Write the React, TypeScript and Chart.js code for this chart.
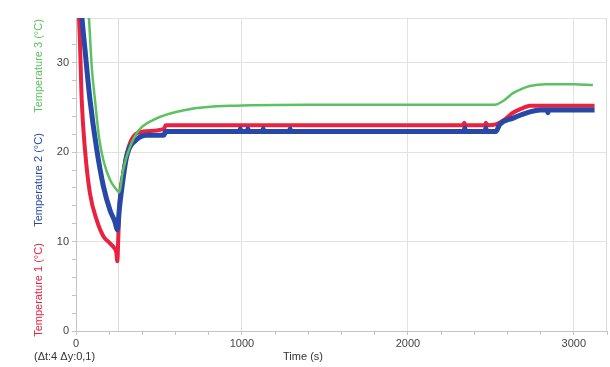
import React, { useEffect, useRef } from "react";
import { Chart, registerables } from "chart.js";
Chart.register(...registerables);

// Temperature 1 (red)
const time1 = [0, 14, 24, 34, 54, 84, 125, 165, 205, 230, 243, 249, 255, 261, 285, 325, 405, 530, 540, 1000, 2330, 2340, 2348, 2465, 2470, 2478, 2530, 2580, 2633, 2690, 2735, 2800, 3000, 3125];
const temp1 = [44, 37, 32.2, 26, 20.3, 15.4, 12.4, 10.6, 9.8, 9.3, 8.8, 7.8, 10.5, 13.9, 17.7, 21.0, 22.3, 22.6, 23.0, 23.0, 23.0, 23.3, 23.0, 23.0, 23.3, 23.0, 23.1, 23.6, 24.4, 24.9, 25.2, 25.2, 25.2, 25.2];

// Temperature 2 (blue)
const time2 = [0, 20, 36, 54, 84, 125, 165, 205, 235, 249, 262, 275, 305, 365, 425, 530, 540, 985, 990, 995, 1032, 1036, 1040, 1125, 1128, 1132, 1287, 1290, 1294, 2340, 2343, 2346, 2466, 2470, 2474, 2530, 2554, 2634, 2735, 2800, 2840, 2844, 2848, 3000, 3125];
const temp2 = [46, 39, 35, 31.5, 25.9, 20.3, 16.2, 13.5, 12.2, 11.3, 13.8, 15.8, 19.5, 21.4, 21.9, 21.9, 22.3, 22.3, 22.6, 22.3, 22.3, 22.6, 22.3, 22.3, 22.6, 22.3, 22.3, 22.6, 22.3, 22.3, 22.7, 22.3, 22.3, 22.7, 22.3, 22.3, 23.1, 23.8, 24.5, 24.7, 24.7, 24.4, 24.7, 24.7, 24.7];

// Temperature 3 (green)
const time3 = [0, 50, 78, 95, 114, 140, 165, 205, 240, 261, 280, 305, 365, 466, 667, 968, 1400, 2000, 2524, 2580, 2633, 2690, 2735, 2835, 3000, 3115];
const temp3 = [56, 41, 35, 29.5, 25.9, 21.5, 19.1, 16.9, 15.9, 15.5, 17.6, 19.5, 22.1, 23.6, 24.75, 25.2, 25.3, 25.3, 25.3, 25.8, 26.6, 27.1, 27.4, 27.6, 27.6, 27.5];

const xMin = 0, xMax = 3200, xMinorStep = 200, xMajorStep = 1000;
const yMin = 0, yMax = 35, yMinorStep = 2, yMajorStep = 10;
const cursorTime = 256;

const seriesLabels = ["Temperature 1 (°C)", "Temperature 2 (°C)", "Temperature 3 (°C)"];
const xTitle = "Time (s)";
const deltaText = "(Δt:4 Δy:0,1)";

const RED = "#e8223f";
const BLUE = "#2748a6";
const GREEN = "#5cc160";
const FONT = "'Liberation Sans', Arial, sans-serif";

const toPts = (t: number[], v: number[]) => t.map((x, i) => ({ x, y: v[i] }));

export default function App() {
  const ref = useRef<HTMLCanvasElement | null>(null);
  useEffect(() => {
    if (!ref.current) return;
    const textPlugin = {
      id: "texts",
      beforeDatasetsDraw(chart: any) {
        const { ctx, chartArea, scales } = chart;
        const px = scales.x.getPixelForValue(cursorTime);
        ctx.save();
        ctx.strokeStyle = "#dcdcdc";
        ctx.lineWidth = 1;
        ctx.beginPath();
        ctx.moveTo(Math.round(px) + 0.5, chartArea.top);
        ctx.lineTo(Math.round(px) + 0.5, chartArea.bottom);
        ctx.moveTo(chartArea.right - 0.5, chartArea.top);
        ctx.lineTo(chartArea.right - 0.5, chartArea.bottom);
        ctx.stroke();
        ctx.restore();
      },
      afterDraw(chart: any) {
        const { ctx } = chart;
        ctx.save();
        ctx.font = `11px ${FONT}`;
        ctx.fillStyle = "#333";
        ctx.textBaseline = "middle";
        ctx.textAlign = "center";
        ctx.fillText(xTitle, 303, 357);
        ctx.textAlign = "left";
        ctx.fillText(deltaText, 34, 357);
        const cols = [RED, BLUE, GREEN];
        const centers = [290, 180, 66];
        seriesLabels.forEach((s, i) => {
          ctx.save();
          ctx.translate(39, centers[i]);
          ctx.rotate(-Math.PI / 2);
          ctx.textAlign = "center";
          ctx.fillStyle = cols[i];
          ctx.fillText(s, 0, 0);
          ctx.restore();
        });
        ctx.restore();
      },
    };
    const chart = new Chart(ref.current, {
      type: "line",
      data: {
        datasets: [
          { label: seriesLabels[2], data: toPts(time3, temp3), borderColor: GREEN, borderWidth: 2.5, order: 0 },
          { label: seriesLabels[1], data: toPts(time2, temp2), borderColor: BLUE, borderWidth: 5, order: 1 },
          { label: seriesLabels[0], data: toPts(time1, temp1), borderColor: RED, borderWidth: 4, order: 2 },
        ].map((d) => ({ ...d, pointRadius: 0, cubicInterpolationMode: "monotone" as const, fill: false })),
      },
      options: {
        responsive: false,
        animation: false,
        devicePixelRatio: 1,
        layout: { padding: { top: 18, right: 3, left: 0, bottom: 0 } },
        plugins: { legend: { display: false }, tooltip: { enabled: false } },
        scales: {
          x: {
            type: "linear",
            min: xMin,
            max: xMax,
            afterFit: (s: any) => { s.height = 36; },
            ticks: {
              stepSize: xMinorStep,
              autoSkip: false,
              maxRotation: 0,
              padding: 2,
              color: "#444",
              font: { family: FONT, size: 11 },
              callback: (v: any) => (Number(v) % xMajorStep === 0 ? String(v) : ""),
            },
            grid: {
              color: (c: any) => (c.tick && c.tick.value % xMajorStep === 0 && c.tick.value !== 0 ? "#e2e2e2" : "rgba(0,0,0,0)"),
              tickColor: "#c4c4c4",
              tickLength: 4,
            },
            border: { color: "#c4c4c4" },
          },
          y: {
            type: "linear",
            min: yMin,
            max: yMax,
            afterFit: (s: any) => { s.width = 76; },
            ticks: {
              stepSize: yMinorStep,
              autoSkip: false,
              padding: 3,
              color: "#444",
              font: { family: FONT, size: 11 },
              callback: (v: any) => (Number(v) % yMajorStep === 0 ? String(v) : ""),
            },
            grid: {
              color: (c: any) => (c.tick && (c.tick.value % yMajorStep === 0 || c.tick.value === yMax) && c.tick.value !== 0 ? "#e2e2e2" : "rgba(0,0,0,0)"),
              tickColor: (c: any) => (c.tick && c.tick.value === yMax ? "rgba(0,0,0,0)" : "#c4c4c4"),
              tickLength: 4,
            },
            border: { color: "#c4c4c4" },
          },
        },
      },
      plugins: [textPlugin],
    });
    return () => chart.destroy();
  }, []);
  return (
    <div style={{ position: "absolute", left: 0, top: 0, width: 610, height: 367, background: "#fff" }}>
      <canvas ref={ref} width={610} height={367} />
    </div>
  );
}
